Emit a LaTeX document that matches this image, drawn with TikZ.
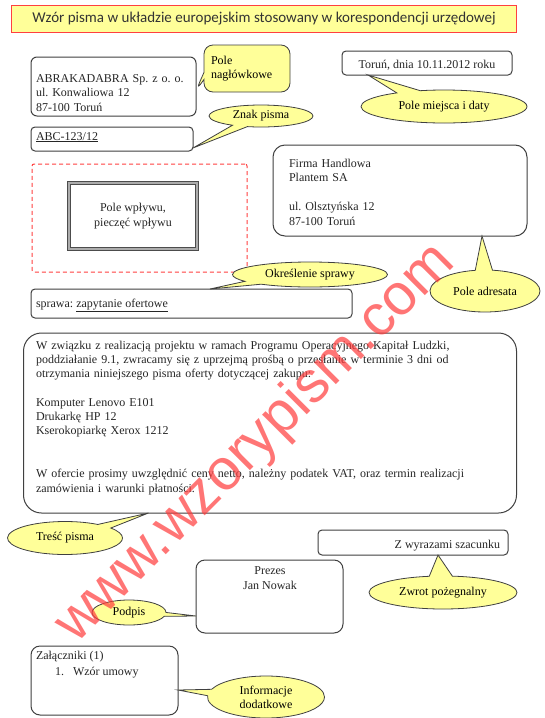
\documentclass[tikz,border=0pt]{standalone}
\usepackage{fontspec}
\setmainfont{LiberationSerif}[Extension=.ttf, UprightFont=*-Regular, BoldFont=*-Bold, ItalicFont=*-Italic, BoldItalicFont=*-BoldItalic]
\newfontfamily\lserif{LiberationSerif}[Extension=.ttf, UprightFont=*-Regular]
\newfontfamily\titlefont{Carlito}
\newfontfamily\wmfont{Liberation Sans}
\usetikzlibrary{shapes.callouts,shapes.geometric,calc}
\definecolor{calloutyellow}{HTML}{FFFF99}
\definecolor{framegray}{HTML}{404040}
\definecolor{wmred}{HTML}{FF3B3B}
\definecolor{titlered}{HTML}{FF4040}
\begin{document}
\frenchspacing
\begin{tikzpicture}[x=1pt,y=-1pt,
  every node/.style={inner sep=0pt, outer sep=0pt},
  txt/.style={font=\lserif\fontsize{12}{14.4}\selectfont, text=black!85},
  box/.style={draw=framegray, line width=1pt, rounded corners=6pt, fill=white},
  ecall/.style={ellipse callout, draw=framegray, line width=0.8pt, fill=calloutyellow,
    callout pointer arc=18, font=\lserif\fontsize{12}{14}\selectfont, align=center},
  rcall/.style={rectangle callout, draw=framegray, line width=0.8pt, fill=calloutyellow,
    rounded corners=9pt, font=\lserif\fontsize{12}{14.5}\selectfont, align=left}]
\useasboundingbox (0,0) rectangle (544,718);
\fill[white] (0,0) rectangle (544,718);

% title
\node[draw=titlered, line width=1.2pt, fill=calloutyellow, minimum width=505pt, minimum height=26.5pt,
  font=\titlefont\fontsize{15}{17}\selectfont, text=black!80] (title) at (264,19)
  {Wzór pisma w układzie europejskim stosowany w korespondencji urzędowej};

% header box
\node[box, minimum width=165pt, minimum height=59pt] (hdr) at (113.5,86.5) {};
\node[txt, anchor=base west, text width=160pt, align=left, font=\lserif\fontsize{12}{14.5}\selectfont] (hdrT) at (36,82)
  {ABRAKADABRA Sp. z o. o.\\ul. Konwaliowa 12\\87-100 Toruń};

% sign box
\node[box, rounded corners=4pt, minimum width=162pt, minimum height=24pt] (znak) at (112,139) {};
\node[txt, anchor=base west] (znakT) at (36,140) {\underline{ABC-123/12}};

% date box
\node[box, rounded corners=4pt, minimum width=170pt, minimum height=24pt] (date) at (427,63) {};
\node[txt, anchor=base] (dateT) at (427,68) {Toruń, dnia 10.11.2012 roku};

% dashed field + stamp
\node[draw=titlered, dashed, dash pattern=on 4pt off 3pt, line width=1pt, rounded corners=2pt,
  minimum width=215pt, minimum height=108pt] (wplyw) at (139.5,218) {};
\node[draw=gray!60!black, line width=0.7pt, double=gray!65, double distance=2.4pt,
  minimum width=128pt, minimum height=66pt, txt, align=center] (stamp) at (133,216)
  {Pole wpływu,\\pieczęć wpływu};

% address box
\node[box, rounded corners=12pt, minimum width=254pt, minimum height=91pt] (adr) at (400,190.5) {};
\node[txt, anchor=base west, text width=200pt, align=left, font=\lserif\fontsize{12}{14.5}\selectfont] (adrT) at (289,167)
  {Firma Handlowa\\Plantem SA\\[14.5pt]ul. Olsztyńska 12\\87-100 Toruń};

% subject box
\node[box, rounded corners=4pt, minimum width=321pt, minimum height=29pt] (spr) at (191.5,303.5) {};
\node[txt, anchor=base west] (sprT) at (36,307) {sprawa: \underline{zapytanie ofertowe}};

% body box
\node[box, rounded corners=18pt, minimum width=493pt, minimum height=180pt] (body) at (270,423) {};
\node[txt, anchor=base west, text width=470pt, align=left, font=\lserif\fontsize{12}{14.3}\selectfont] (bodyT) at (36,349)
  {W związku z realizacją projektu w ramach Programu Operacyjnego Kapitał Ludzki,\\
   poddziałanie 9.1, zwracamy się z uprzejmą prośbą o przesłanie w terminie 3 dni od\\
   otrzymania niniejszego pisma oferty dotyczącej zakupu:\\[14.3pt]
   Komputer Lenovo E101\\
   Drukarkę HP 12\\
   Kserokopiarkę Xerox 1212\\[28.6pt]
   W ofercie prosimy uwzględnić ceny netto, należny podatek VAT, oraz termin realizacji\\
   zamówienia i warunki płatności.};

% closing box
\node[box, rounded corners=4pt, minimum width=190pt, minimum height=25pt] (wyr) at (413,542.5) {};
\node[txt, anchor=base east] (wyrT) at (500,548) {Z wyrazami szacunku};

% signature box
\node[box, rounded corners=9pt, minimum width=147pt, minimum height=73pt] (prez) at (269.5,596.5) {};
\node[txt, align=center, anchor=base] (prezT) at (270,589) {Prezes\\Jan Nowak};

% attachments box
\node[box, rounded corners=9pt, minimum width=147pt, minimum height=69pt] (zal) at (104.5,680.5) {};
\node[txt, anchor=base west] (zalT) at (36,659) {Załączniki (1)};
\node[txt, anchor=base west] (zalN) at (55,675) {1.\hspace{9pt}Wzór umowy};

% callouts
\node[rcall, minimum width=86pt, minimum height=47pt, text width=72pt, inner xsep=7pt,
  callout absolute pointer={($(hdr.east)+(0,4)$)}] (naglC) at (247,68.5) {Pole\\nagłówkowe};
\node[ecall, minimum width=104pt, minimum height=22pt,
  callout absolute pointer={($(znak.south east)+(0,-3)$)}] (znakC) at (261,116) {Znak pisma};
\node[ecall, minimum width=166pt, minimum height=33pt,
  callout absolute pointer={($(date.south west)+(26,0)$)}] (dataC) at (444,106.5) {Pole miejsca i daty};
\node[ecall, minimum width=110pt, minimum height=42pt,
  callout absolute pointer={($(adr.south)+(82,0)$)}] (adrC) at (485,291) {Pole adresata};
\node[ecall, minimum width=155pt, minimum height=25pt,
  callout absolute pointer={($(spr.north west)+(179,0)$)}] (okrC) at (310,274.5) {Określenie sprawy};
\node[ecall, minimum width=115pt, minimum height=33pt,
  callout absolute pointer={($(body.south west)+(125,0)$)}] (trescC) at (65,538) {Treść pisma};
\node[ecall, minimum width=148pt, minimum height=33pt,
  callout absolute pointer={($(wyr.south)+(25,0)$)}] (zwrotC) at (443,592.5) {Zwrot pożegnalny};
\node[ecall, minimum width=74pt, minimum height=25pt,
  callout absolute pointer={($(prez.west)+(0,19.5)$)}] (podpisC) at (129,612.5) {Podpis};
\node[ecall, minimum width=117pt, minimum height=42pt,
  callout absolute pointer={($(zal.east)+(0,9.5)$)}] (infoC) at (266,697) {Informacje\\dodatkowe};

% watermark
\node[rotate=45, text=wmred, opacity=0.7, font=\wmfont\fontsize{58}{58}\selectfont] (wm) at (256,444)
  {www.wzorypism.com};
\end{tikzpicture}
\end{document}
